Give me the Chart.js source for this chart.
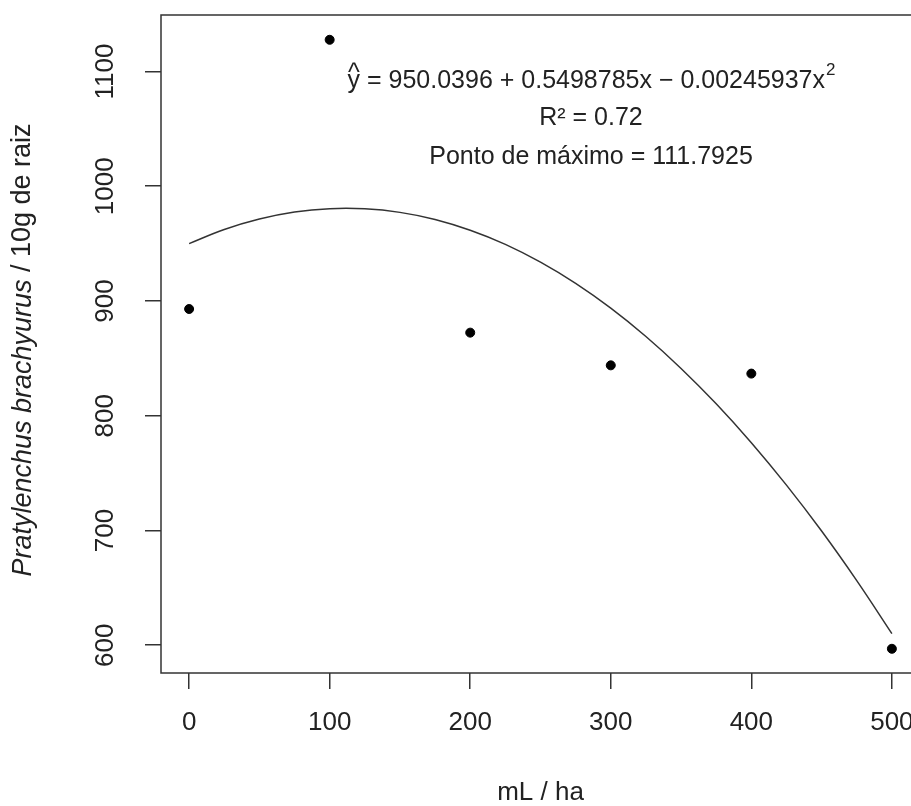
<!DOCTYPE html>
<html>
<head>
<meta charset="utf-8">
<script src="https://cdn.jsdelivr.net/npm/chart.js@4.4.1/dist/chart.umd.min.js"></script>
<style>
  html, body { margin: 0; padding: 0; background: #fff; overflow: hidden; }
  #wrap { width: 940px; height: 806px; }
</style>
</head>
<body>
<div id="wrap"><canvas id="chart" width="940" height="806"></canvas></div>
<script>
// observed means
const doses = [0, 100, 200, 300, 400, 500];
const counts = [893, 1127.6, 872.4, 843.9, 836.7, 596.9];

// fitted curve
const fitX = [0, 25, 50, 75, 100, 125, 150, 175, 200, 225, 250, 275, 300, 325, 350, 375, 400, 425, 450, 475, 500];
const fitY = [950.0, 962.3, 971.4, 977.5, 980.4, 980.3, 977.2, 971.0, 961.6, 949.3, 933.8, 915.3, 893.7, 869.0, 841.2, 810.4, 776.5, 739.5, 699.5, 656.3, 610.1];

const xTicks = [0, 100, 200, 300, 400, 500];
const yTicks = [600, 700, 800, 900, 1000, 1100];

const eqText = ' = 950.0396 + 0.5498785x \u2212 0.00245937x';
const r2Text = 'R\u00b2 = 0.72';
const maxText = 'Ponto de m\u00e1ximo = 111.7925';

const FONT = '"Liberation Sans", Arial, sans-serif';
const INK = '#222';

// box around the plot area, like R's box()
const boxPlugin = {
    id: 'box',
    afterDraw(chart) {
        const a = chart.chartArea;
        const c = chart.ctx;
        c.save();
        c.strokeStyle = '#333';
        c.lineWidth = 1.5;
        c.strokeRect(a.left, a.top, a.right - a.left, a.bottom - a.top);
        c.restore();
    }
};

// y title with italic species name + fitted equation text
const textPlugin = {
    id: 'texts',
    afterDraw(chart) {
        const c = chart.ctx;
        const a = chart.chartArea;
        c.save();
        c.fillStyle = INK;

        // y axis title
        const italic = 'italic 27px ' + FONT;
        const normal = '27px ' + FONT;
        const p1 = 'Pratylenchus brachyurus';
        const p2 = ' / 10g de raiz';
        c.font = italic; const w1 = c.measureText(p1).width;
        c.font = normal; const w2 = c.measureText(p2).width;
        c.translate(23, (a.top + a.bottom) / 2 + 6);
        c.rotate(-Math.PI / 2);
        c.textBaseline = 'middle';
        c.textAlign = 'left';
        c.font = italic; c.fillText(p1, -(w1 + w2) / 2, 0);
        c.font = normal; c.fillText(p2, -(w1 + w2) / 2 + w1, 0);
        c.setTransform(1, 0, 0, 1, 0, 0);

        // equation
        const cx = 591;
        c.textBaseline = 'alphabetic';
        c.textAlign = 'left';
        c.font = '25px ' + FONT;
        const wy = c.measureText('y').width;
        const we = c.measureText(eqText).width;
        c.font = '17px ' + FONT;
        const ws = c.measureText('2').width;
        let x0 = cx - (wy + we + ws) / 2;
        c.font = '25px ' + FONT;
        c.fillText('y', x0, 88);
        c.textAlign = 'center';
        c.fillText('^', x0 + wy / 2, 81);
        c.textAlign = 'left';
        c.fillText(eqText, x0 + wy, 88);
        c.font = '17px ' + FONT;
        c.fillText('2', x0 + wy + we + 1, 75);

        c.font = '25px ' + FONT;
        c.textAlign = 'center';
        c.fillText(r2Text, cx, 125);
        c.fillText(maxText, cx, 164);
        c.restore();
    }
};

const ctx = document.getElementById('chart').getContext('2d');

const chart = new Chart(ctx, {
    type: 'scatter',
    data: {
        datasets: [{
            label: 'observado',
            data: doses.map((d, i) => ({ x: d, y: counts[i] })),
            backgroundColor: '#000',
            borderColor: '#000',
            pointRadius: 4.5,
            pointHoverRadius: 4.5,
            showLine: false
        }, {
            label: 'ajuste',
            data: fitX.map((d, i) => ({ x: d, y: fitY[i] })),
            showLine: true,
            borderColor: '#333',
            borderWidth: 1.5,
            pointRadius: 0,
            tension: 0.4,
            fill: false
        }]
    },
    options: {
        responsive: false,
        animation: false,
        events: [],
        layout: { padding: { top: 15, right: 20, left: 0, bottom: 0 } },
        plugins: {
            legend: { display: false },
            tooltip: { enabled: false }
        },
        scales: {
            x: {
                type: 'linear',
                min: -20,
                max: 520,
                afterBuildTicks: (s) => { s.ticks = xTicks.map(v => ({ value: v })); },
                afterFit: (s) => { s.height = 133; s.paddingLeft = 0; s.paddingRight = 0; },
                grid: { display: true, drawOnChartArea: false, drawTicks: true, tickLength: 16, color: '#333', lineWidth: 1.5 },
                border: { display: false },
                ticks: { color: INK, font: { family: FONT, size: 26 }, padding: 18, maxRotation: 0, autoSkip: false, callback: (v) => String(v) },
                title: { display: true, text: 'mL / ha', color: INK, font: { family: FONT, size: 26, lineHeight: 1 }, padding: { top: 0, bottom: 0 } }
            },
            y: {
                min: 575.8,
                max: 1149.2,
                afterBuildTicks: (s) => { s.ticks = yTicks.map(v => ({ value: v })); },
                afterFit: (s) => { s.width = 161; s.paddingTop = 0; s.paddingBottom = 0; },
                grid: { display: true, drawOnChartArea: false, drawTicks: true, tickLength: 16, color: '#333', lineWidth: 1.5 },
                border: { display: false },
                ticks: { color: INK, font: { family: FONT, size: 26 }, padding: 10, minRotation: 90, maxRotation: 90, crossAlign: 'center', autoSkip: false, callback: (v) => String(v) }
            }
        }
    },
    plugins: [boxPlugin, textPlugin]
});
</script>
</body>
</html>
